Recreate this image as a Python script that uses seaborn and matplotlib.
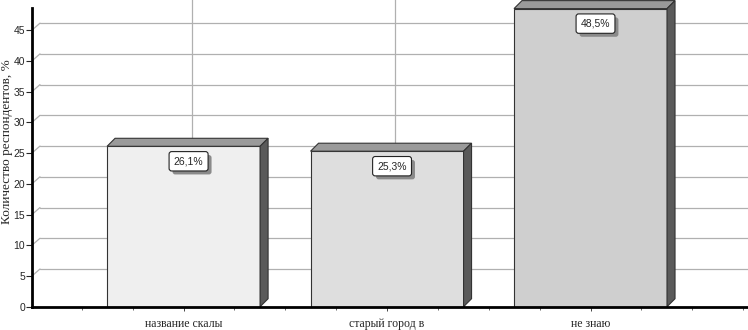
import matplotlib
matplotlib.use("Agg")
import matplotlib.pyplot as plt
import matplotlib.patheffects as pe
from matplotlib.patches import Polygon
from matplotlib.ticker import MultipleLocator
import seaborn as sns

# data
categories = ['название скалы', 'старый город в', 'не знаю']
values = [26.1, 25.3, 48.5]
value_labels = ['26,1%', '25,3%', '48,5%']
bar_colors = ['#efefef', '#dedede', '#cfcfcf']
y_ticks = [0, 5, 10, 15, 20, 25, 30, 35, 40, 45]

sns.set_style("white")
serif = ['Liberation Serif', 'DejaVu Serif']
narrow = ['Liberation Sans Narrow', 'Liberation Sans', 'DejaVu Sans']

fig = plt.figure(figsize=(7.48, 3.30), dpi=100)
ax = fig.add_axes([32 / 748, 23.3 / 330, 716 / 748, 298.7 / 330])

sns.barplot(x=categories, y=values, hue=categories, palette=bar_colors,
            width=0.752, edgecolor='#333333', linewidth=0.8, legend=False,
            saturation=1, ax=ax, zorder=2)

xmin, xmax = -0.745, 2.774
ymin, ymax = 0, 48.6
ax.set_xlim(xmin, xmax)
ax.set_ylim(ymin, ymax)

# depth of the fake 3D effect, in data units (~8 px)
dx = 8 / 203.5
dy = 8 / 6.15
gdy = 7 / 6.15

# back-wall grid
for t in y_ticks[1:]:
    ax.plot([xmin + dx, xmax], [t + gdy, t + gdy], color='#b0b0b0', lw=0.9, zorder=0.5)
    ax.plot([xmin, xmin + dx], [t, t + gdy], color='#b0b0b0', lw=0.9, zorder=0.5)
for i in range(len(categories)):
    ax.plot([i + dx, i + dx], [gdy, ymax + 2], color='#b0b0b0', lw=0.9, zorder=0.5,
            clip_on=False)

# top and side faces of the bars
for bar in ax.patches:
    x0 = bar.get_x()
    w = bar.get_width()
    h = bar.get_height()
    top = Polygon([(x0, h), (x0 + dx, h + dy), (x0 + w + dx, h + dy), (x0 + w, h)],
                  closed=True, facecolor='#9a9a9a', edgecolor='#333333', lw=0.8,
                  zorder=2, clip_on=False)
    side = Polygon([(x0 + w, 0), (x0 + w + dx, dy), (x0 + w + dx, h + dy), (x0 + w, h)],
                   closed=True, facecolor='#5a5a5a', edgecolor='#333333', lw=0.8,
                   zorder=2, clip_on=False)
    ax.add_patch(top)
    ax.add_patch(side)

# value boxes
for i, (v, lab) in enumerate(zip(values, value_labels)):
    txt = ax.annotate(lab, xy=(i, v), xytext=(5, -15), textcoords='offset pixels',
                      ha='center', va='center', fontsize=7.5, family=narrow, zorder=5,
                      bbox=dict(boxstyle='round,pad=0.45,rounding_size=0.25',
                                fc='white', ec='#222222', lw=0.8))
    txt.get_bbox_patch().set_path_effects(
        [pe.SimplePatchShadow(offset=(2.5, -2.5), shadow_rgbFace='#8a8a8a', alpha=1),
         pe.Normal()])

# axes styling
for s in ['top', 'right']:
    ax.spines[s].set_visible(False)
ax.spines['left'].set_linewidth(2)
ax.spines['bottom'].set_linewidth(2)
ax.spines['left'].set_color('black')
ax.spines['bottom'].set_color('black')

ax.set_yticks(y_ticks)
ax.set_yticklabels([str(t) for t in y_ticks], family=narrow, fontsize=7.5)
ax.tick_params(axis='y', length=4, width=0.8, pad=1, left=True)
ax.tick_params(axis='x', length=3, width=0.6, pad=5, bottom=True, labelsize=8.5)
ax.xaxis.set_minor_locator(MultipleLocator(0.25))
ax.tick_params(axis='x', which='minor', length=2, width=0.5, bottom=True)
for lbl in ax.get_xticklabels():
    lbl.set_family(serif)
ax.set_xlabel('')
ax.set_ylabel('')
fig.text(7.5 / 748, 1 - 142 / 330, 'Количество респондентов, %', family=serif,
         fontsize=9.5, rotation=90, ha='center', va='center')

fig.savefig('out.png', dpi=100)
